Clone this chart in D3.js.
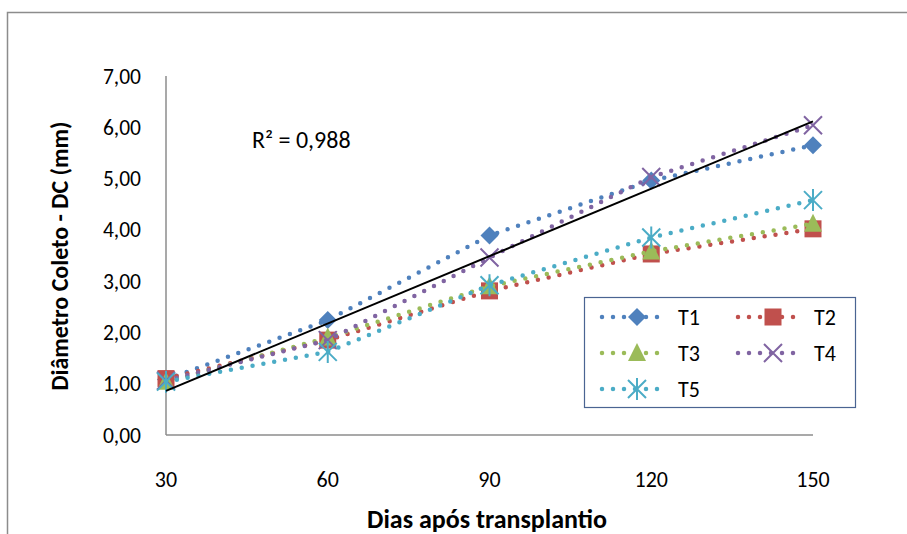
<!DOCTYPE html>
<html>
<head>
<meta charset="utf-8">
<script src="https://cdn.jsdelivr.net/npm/d3@7"></script>
<style>
  body { margin: 0; background: #fff; }
  text { font-family: Carlito, Calibri, Lato, sans-serif; fill: #000; }
</style>
</head>
<body>
<script>
// dados
var dias = [30, 60, 90, 120, 150];
var T1 = [1.08, 2.24, 3.89, 4.96, 5.65];
var T2 = [1.10, 1.85, 2.81, 3.53, 4.02];
var T3 = [1.04, 1.90, 2.90, 3.58, 4.12];
var T4 = [1.06, 1.85, 3.46, 5.03, 6.04];
var T5 = [1.04, 1.62, 2.92, 3.85, 4.58];
var yTicks = [0, 1, 2, 3, 4, 5, 6, 7];
var r2Label = "R² = 0,988";

var series = [
    {name: "T1", values: T1, color: "#4F81BD", sym: "diamond"},
    {name: "T2", values: T2, color: "#C0504D", sym: "square"},
    {name: "T3", values: T3, color: "#9BBB59", sym: "triangle"},
    {name: "T4", values: T4, color: "#8064A2", sym: "x"},
    {name: "T5", values: T5, color: "#4BACC6", sym: "star"}
];

var width = 907, height = 534;
var svg = d3.select("body").append("svg")
    .attr("width", width)
    .attr("height", height);

// moldura externa
svg.append("rect")
    .attr("x", 7.5).attr("y", 12.5)
    .attr("width", 1000).attr("height", 600)
    .attr("fill", "none")
    .attr("stroke", "#8c8c8c")
    .attr("stroke-width", 1.5);

var x = d3.scaleLinear().domain([30, 150]).range([166, 813]);
var y = d3.scaleLinear().domain([0, 7]).range([435, 76]);

// eixos
svg.append("line")
    .attr("x1", x(30)).attr("x2", x(30))
    .attr("y1", y(7)).attr("y2", y(0))
    .attr("stroke", "#8c8c8c").attr("stroke-width", 1.5);
svg.append("line")
    .attr("x1", x(30)).attr("x2", x(150))
    .attr("y1", y(0)).attr("y2", y(0))
    .attr("stroke", "#8c8c8c").attr("stroke-width", 1.5);

svg.selectAll(".ytick").data(yTicks).enter()
    .append("text")
    .attr("class", "ytick")
    .attr("x", 141)
    .attr("y", (d) => y(d))
    .attr("dy", "0.35em")
    .attr("text-anchor", "end")
    .attr("font-size", "21.5px")
    .text((d) => d.toFixed(2).replace(".", ","));

svg.selectAll(".xtick").data(dias).enter()
    .append("text")
    .attr("class", "xtick")
    .attr("x", (d) => x(d))
    .attr("y", 487)
    .attr("text-anchor", "middle")
    .attr("font-size", "22px")
    .text((d) => d);

svg.append("text")
    .attr("x", 487).attr("y", 528)
    .attr("text-anchor", "middle")
    .attr("font-size", "26px")
    .attr("font-weight", "bold")
    .text("Dias após transplantio");

svg.append("text")
    .attr("transform", "translate(68, 256) rotate(-90)")
    .attr("text-anchor", "middle")
    .attr("font-size", "24px")
    .attr("font-weight", "bold")
    .text("Diâmetro Coleto - DC (mm)");

// simbolos
function marker(g, sym, color) {
    if (sym == "diamond") {
        g.append("path").attr("d", "M0,-9L9,0L0,9L-9,0Z").attr("fill", color);
    } else if (sym == "square") {
        g.append("rect").attr("x", -8.5).attr("y", -8.5).attr("width", 17).attr("height", 17).attr("fill", color);
    } else if (sym == "triangle") {
        g.append("path").attr("d", "M0,-10L9,8L-9,8Z").attr("fill", color);
    } else if (sym == "x") {
        g.append("path").attr("d", "M-9,-9L9,9M9,-9L-9,9").attr("stroke", color).attr("stroke-width", 2);
    } else {
        g.append("path").attr("d", "M-9,-9L9,9M9,-9L-9,9M0,-11L0,11").attr("stroke", color).attr("stroke-width", 2);
    }
}

var line = d3.line()
    .x((d, i) => x(dias[i]))
    .y((d) => y(d));

series.forEach((s) => {
    svg.append("path")
        .datum(s.values)
        .attr("d", line)
        .attr("fill", "none")
        .attr("stroke", s.color)
        .attr("stroke-width", 4.5)
        .attr("stroke-linecap", "round")
        .attr("stroke-dasharray", "0,11");
    s.values.forEach((v, i) => {
        var g = svg.append("g").attr("transform", "translate(" + x(dias[i]) + "," + y(v) + ")");
        marker(g, s.sym, s.color);
    });
});

// linha de tendencia linear (T4)
var mx = d3.mean(dias), my = d3.mean(T4);
var b = d3.sum(dias, (d, i) => (d - mx) * (T4[i] - my)) / d3.sum(dias, (d) => (d - mx) * (d - mx));
var a = my - b * mx;
svg.append("line")
    .attr("x1", x(30)).attr("y1", y(a + b * 30))
    .attr("x2", x(150)).attr("y2", y(a + b * 150))
    .attr("stroke", "#000").attr("stroke-width", 2);

svg.append("text")
    .attr("x", 252).attr("y", 148)
    .attr("font-size", "24px")
    .text(r2Label);

// legenda
var leg = svg.append("g");
leg.append("rect")
    .attr("x", 584.5).attr("y", 297.5)
    .attr("width", 271).attr("height", 110)
    .attr("fill", "#fff")
    .attr("stroke", "#4a6492")
    .attr("stroke-width", 1.2);

series.forEach((s, i) => {
    var lx = 602 + (i % 2) * 136;
    var ly = 317 + Math.floor(i / 2) * 36;
    leg.append("line")
        .attr("x1", lx).attr("x2", lx + 63)
        .attr("y1", ly).attr("y2", ly)
        .attr("stroke", s.color)
        .attr("stroke-width", 4.5)
        .attr("stroke-linecap", "round")
        .attr("stroke-dasharray", "0,11");
    var g = leg.append("g").attr("transform", "translate(" + (lx + 35) + "," + ly + ")");
    marker(g, s.sym, s.color);
    leg.append("text")
        .attr("x", lx + 76).attr("y", ly)
        .attr("dy", "0.35em")
        .attr("font-size", "22px")
        .text(s.name);
});
</script>
</body>
</html>
